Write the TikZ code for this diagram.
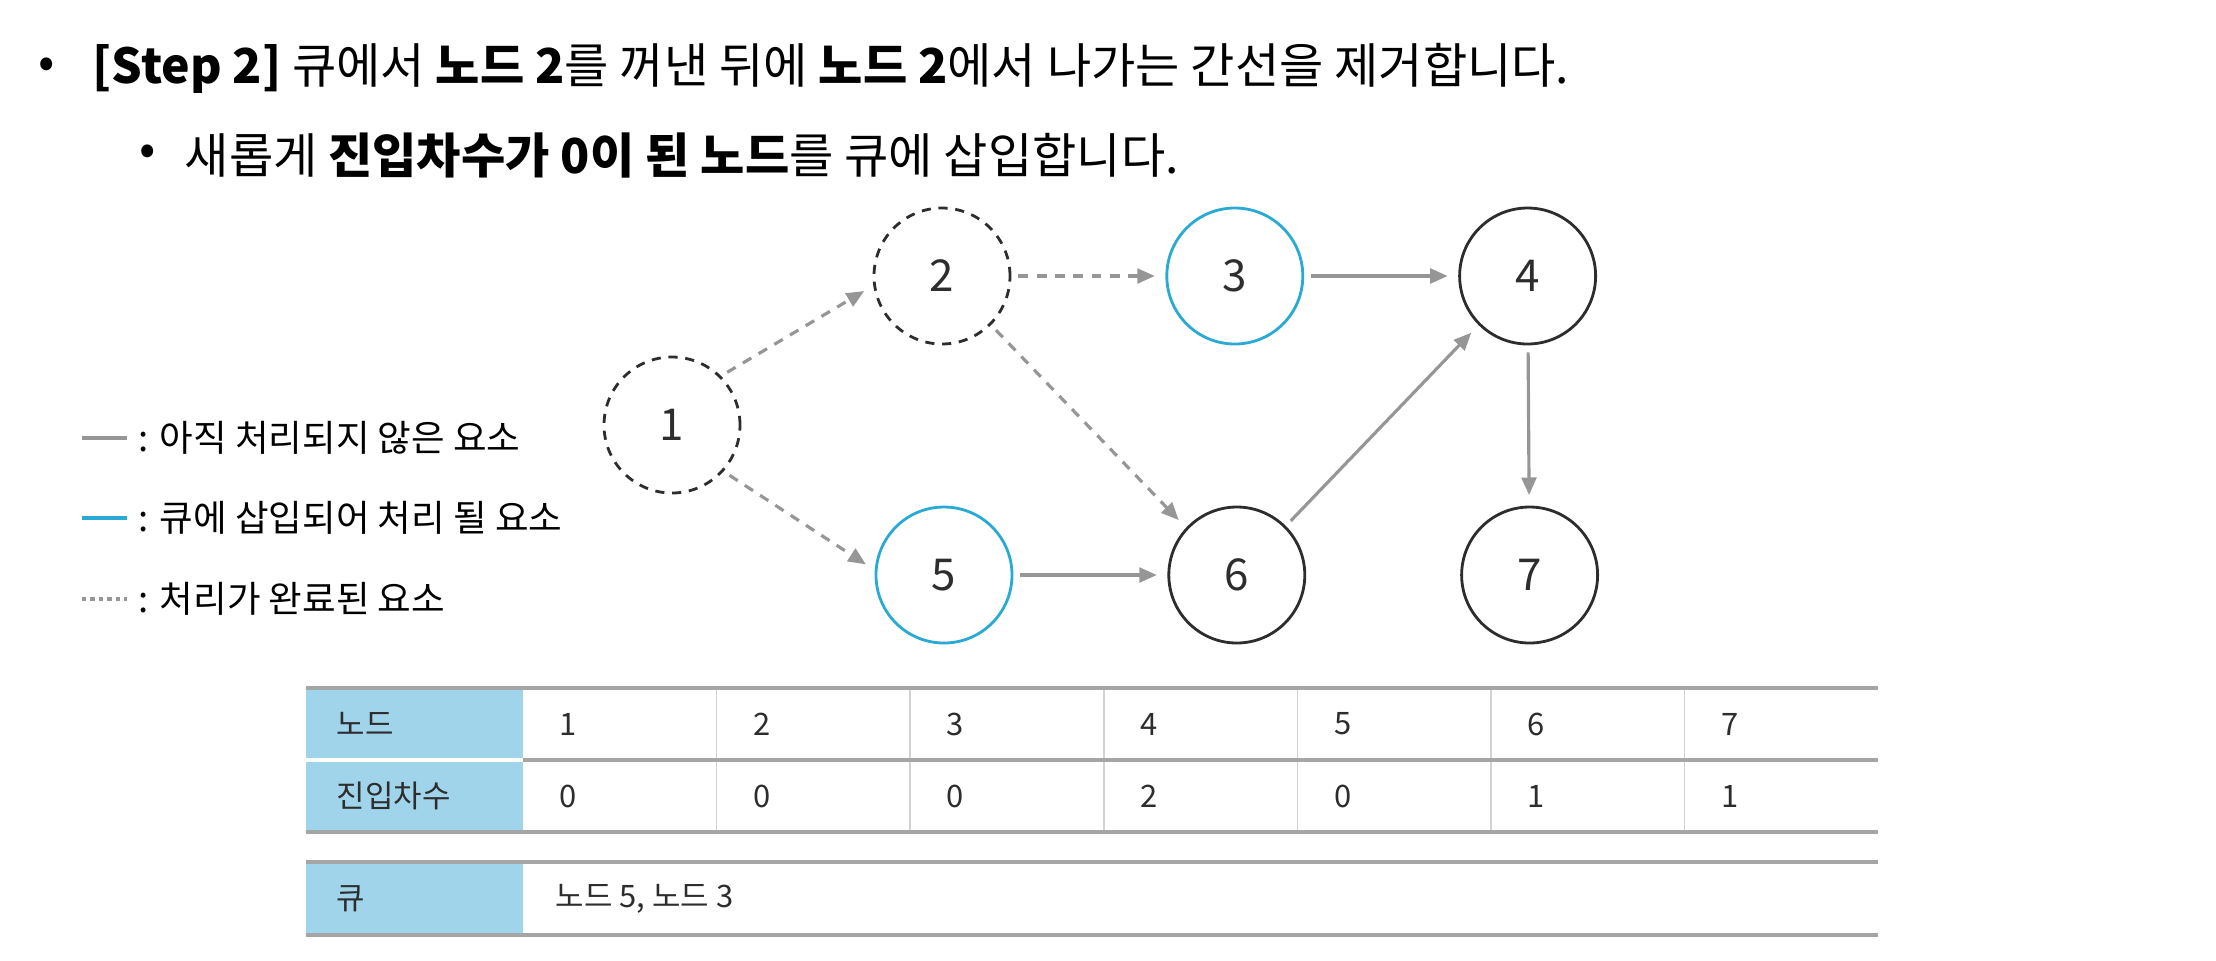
\documentclass[tikz,border=0pt]{standalone}
\usepackage{fontspec}
\setmainfont{Noto Sans CJK KR}
\usepackage{tikz}
\usetikzlibrary{arrows.meta,positioning}
\definecolor{Ink}{RGB}{45,45,45}
\definecolor{Edge}{RGB}{150,150,150}
\definecolor{Sky}{RGB}{40,170,210}
\definecolor{HeadFill}{RGB}{160,212,235}
\definecolor{Rule}{RGB}{165,165,165}
\definecolor{Thin}{RGB}{210,210,210}
\tikzset{
  vert/.style={circle,draw=Ink,line width=0.8pt,minimum size=1.36cm,inner sep=0pt,text=Ink,font=\fontsize{12.5}{14}\selectfont},
  donevert/.style={vert,dash pattern=on 2.6pt off 2.2pt},
  queuevert/.style={vert,draw=Sky},
  flow/.style={-{Triangle[length=5pt,width=4.2pt]},line width=0.9pt,draw=Edge,shorten <=2pt,shorten >=3pt},
  doneflow/.style={flow,dash pattern=on 2.8pt off 2.4pt},
  headline/.style={anchor=west,inner sep=0pt,font=\fontsize{13.7}{16}\selectfont},
  legtext/.style={anchor=west,inner sep=0pt,font=\fontsize{10.4}{12}\selectfont},
  legline/.style={line width=1.4pt},
  cell/.style={anchor=west,inner sep=0pt,text=Ink,font=\fontsize{8.8}{10}\selectfont},
  rule/.style={draw=Rule,line width=0.9pt},
  thinrule/.style={draw=Thin,line width=0.5pt}
}
\begin{document}
\begin{tikzpicture}[node distance=1.54cm]
\useasboundingbox (0,0) rectangle (22.16,-9.6);
% heading
\node[font=\fontsize{13.7}{16}\selectfont] (dot1) at (0.47,-0.68) {•};
\node[headline] (line1) at (0.92,-0.68) {\textbf{[Step 2]} 큐에서 \textbf{노드 2}를 꺼낸 뒤에 \textbf{노드 2}에서 나가는 간선을 제거합니다.};
\node[font=\fontsize{13.7}{16}\selectfont] (dot2) at (1.48,-1.55) {•};
\node[headline] (line2) at (1.84,-1.55) {새롭게 \textbf{진입차수가 0이 된 노드}를 큐에 삽입합니다.};
% graph
\node[donevert] (n1) at (6.72,-4.25) {1};
\node[donevert] (n2) at (9.42,-2.76) {2};
\node[queuevert,right=of n2] (n3) {3};
\node[vert,right=of n3] (n4) {4};
\node[queuevert] (n5) at (9.44,-5.75) {5};
\node[vert,right=of n5] (n6) {6};
\node[vert,right=of n6] (n7) {7};
\draw[doneflow] (n1.45)--(n2.188); \draw[doneflow] (n1.-42)--(n5.176);
\draw[doneflow] (n2)--(n3); \draw[doneflow] (n2.-45)--(n6.137);
\draw[flow] (n3)--(n4); \draw[flow] (n5)--(n6); \draw[flow] (n6.45)--(n4.225); \draw[flow] (n4)--(n7);
% legend
\draw[legline,draw=Edge] (0.82,-4.38)--(1.27,-4.38);
\draw[legline,draw=Sky] (0.82,-5.18)--(1.27,-5.18);
\draw[legline,draw=Edge,dash pattern=on 1.2pt off 1.2pt] (0.82,-5.99)--(1.27,-5.99);
\node[legtext] (leg1) at (1.38,-4.38) {: 아직 처리되지 않은 요소};
\node[legtext] (leg2) at (1.38,-5.18) {: 큐에 삽입되어 처리 될 요소};
\node[legtext] (leg3) at (1.38,-5.99) {: 처리가 완료된 요소};
% table
\fill[HeadFill] (3.06,-6.88) rectangle (5.23,-8.32);
\fill[HeadFill] (3.06,-8.62) rectangle (5.23,-9.35);
\draw[white,line width=1.2pt] (3.06,-7.60)--(5.23,-7.60);
\foreach \k in {1,...,6}
  \draw[thinrule] ({5.23+\k*1.936},-6.88)--({5.23+\k*1.936},-8.32);
\draw[rule] (5.23,-7.60)--(18.78,-7.60);
\foreach \y in {-6.88,-8.32,-8.62,-9.35}
  \draw[rule] (3.06,\y)--(18.78,\y);
\node[cell] (hnode) at (3.36,-7.24) {노드};
\node[cell] (hdeg) at (3.36,-7.96) {진입차수};
\node[cell] (hqueue) at (3.36,-8.985) {큐};
\foreach \d [count=\i] in {0,0,0,2,0,1,1} {
  \node[cell] (v\i) at ({5.23+(\i-1)*1.936+0.36},-7.24) {\i};
  \node[cell] (d\i) at ({5.23+(\i-1)*1.936+0.36},-7.96) {\d};
}
\node[cell] (qval) at (5.55,-8.985) {노드 5, 노드 3};
\end{tikzpicture}
\end{document}
